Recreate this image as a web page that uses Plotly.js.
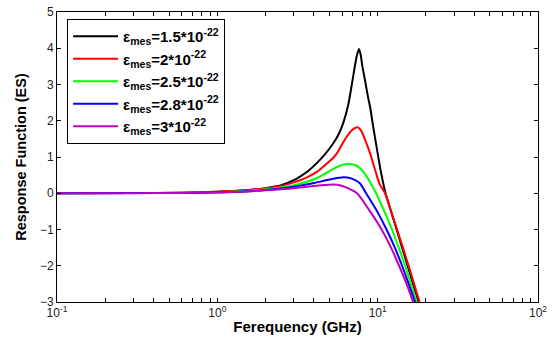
<!DOCTYPE html>
<html>
<head>
<meta charset="utf-8">
<script src="https://cdn.plot.ly/plotly-3.0.1.min.js"></script>
<style>html,body{margin:0;padding:0;background:#fff;}#chart{width:553px;height:345px;}</style>
</head>
<body>
<div id="chart"></div>
<script>
// Frequencies (GHz) and response values
const freqBlack = [0.1,0.3,0.6,1.0,1.5,2.0,2.5,3.0,3.28,3.7,4.17,4.7,5.29,5.7,6.11,6.56,7.05,7.4,7.65,7.85,8.0,8.35,8.71,8.97,9.36,9.92,10.5,11.2,12.12,13.12,14.2,15.37,16.63,18.0,19.2];
const respBlack = [0,0.005,0.015,0.04,0.08,0.14,0.22,0.36,0.46,0.62,0.83,1.08,1.38,1.62,1.95,2.45,3.25,3.78,3.98,3.8,3.54,3.1,2.65,2.38,1.86,1.19,0.57,0.0,-0.5,-1.0,-1.5,-2.0,-2.5,-3.0,-3.4];

const freqRed = [0.1,0.3,0.6,1.0,1.5,2.0,2.5,3.0,3.28,3.7,4.17,4.7,5.29,5.56,6.0,6.41,6.9,7.48,7.9,8.35,8.97,9.64,10.3,11.12,12.12,13.21,14.37,15.59,16.87,18.25,19.3];
const respRed = [0,0.005,0.015,0.04,0.08,0.13,0.2,0.3,0.36,0.46,0.59,0.78,0.98,1.1,1.35,1.56,1.74,1.82,1.72,1.47,1.1,0.64,0.25,0.0,-0.5,-1.0,-1.5,-2.0,-2.5,-3.0,-3.35];

const freqGreen = [0.1,0.3,0.6,1.0,1.5,2.0,2.5,3.0,3.28,3.7,4.17,4.7,5.29,5.8,6.3,6.73,7.2,7.8,8.55,9.2,9.77,11.01,12.29,13.52,14.83,16.11,17.48,18.5];
const respGreen = [0,0.004,0.012,0.03,0.065,0.11,0.16,0.22,0.26,0.33,0.42,0.54,0.67,0.76,0.8,0.81,0.78,0.68,0.46,0.22,0.0,-0.5,-1.0,-1.5,-2.0,-2.5,-3.0,-3.35];

const freqBlue = [0.1,0.3,0.6,1.0,1.5,2.0,2.5,3.0,3.28,4.0,4.7,5.29,6.11,6.6,7.2,7.77,8.47,9.92,11.36,12.8,14.2,15.61,17.11,18.2];
const respBlue = [0,0.004,0.01,0.025,0.05,0.09,0.13,0.18,0.21,0.28,0.35,0.4,0.44,0.43,0.37,0.27,0.0,-0.5,-1.0,-1.5,-2.0,-2.5,-3.0,-3.35];

const freqMagenta = [0.1,0.3,0.6,1.0,1.5,2.0,2.5,3.0,3.28,4.0,4.7,5.29,5.8,6.3,6.8,7.44,8.97,10.58,12.12,13.6,15.15,16.63,17.7];
const respMagenta = [0,0.003,0.008,0.02,0.05,0.08,0.11,0.14,0.16,0.2,0.23,0.24,0.22,0.17,0.1,0.0,-0.5,-1.0,-1.5,-2.0,-2.5,-3.0,-3.35];

const seriesNames = ['1.5','2','2.5','2.8','3'];
const seriesColors = ['#000000','#ff0000','#00ff00','#0000ff','#bf00bf'];

const xTickVals = [];
const xTickText = [];
const decadeLabels = ['10<sup>-1</sup>','10<sup>0</sup>','10<sup>1</sup>','10<sup>2</sup>'];
[0.1,1,10].forEach((d,i)=>{
  for(let m=1;m<=9;m++){ xTickVals.push(d*m); xTickText.push(m===1?decadeLabels[i]:''); }
});
xTickVals.push(100); xTickText.push(decadeLabels[3]);
const yTickVals = [-3,-2,-1,0,1,2,3,4,5];

const xs = [freqBlack,freqRed,freqGreen,freqBlue,freqMagenta];
const ys = [respBlack,respRed,respGreen,respBlue,respMagenta];

const traces = xs.map((x,i)=>({
  x: x, y: ys[i], type:'scatter', mode:'lines',
  line:{color:seriesColors[i], width:2, shape:'spline', smoothing:0.7},
  name:'<b>ε<sub>mes</sub>=' + seriesNames[i] + '*10<sup>-22</sup></b>'
}));

const layout = {
  width:553, height:345,
  margin:{l:57, r:15, t:12, b:43},
  paper_bgcolor:'#fff', plot_bgcolor:'#fff',
  font:{family:'Liberation Sans, Arial, sans-serif', color:'#000', size:11},
  showlegend:true,
  legend:{x:0.021, y:0.976, xanchor:'left', yanchor:'top', bgcolor:'#fff',
    bordercolor:'#000', borderwidth:1, font:{size:15, family:'Liberation Sans, Arial, sans-serif'},
    tracegroupgap:0, itemwidth:45},
  xaxis:{type:'log', range:[-1,2], tickmode:'array', tickvals:xTickVals, ticktext:xTickText,
    ticks:'inside', ticklen:4, tickcolor:'#000', showline:true, linecolor:'#000', linewidth:1,
    mirror:'ticks', showgrid:false, zeroline:false, tickfont:{size:12, color:'#222'},
    title:{text:'<b>Ferequency (GHz)</b>', font:{size:15}, standoff:2}},
  yaxis:{range:[-3,5], tickmode:'array', tickvals:yTickVals, ticks:'inside', ticklen:4,
    tickcolor:'#000', showline:true, linecolor:'#000', linewidth:1, mirror:'ticks',
    showgrid:false, zeroline:false, tickfont:{size:12, color:'#222'},
    title:{text:'<b>Response Function (ES)</b>', font:{size:14.5}, standoff:9}}
};

Plotly.newPlot('chart', traces, layout, {displayModeBar:false, staticPlot:true});
</script>
</body>
</html>
